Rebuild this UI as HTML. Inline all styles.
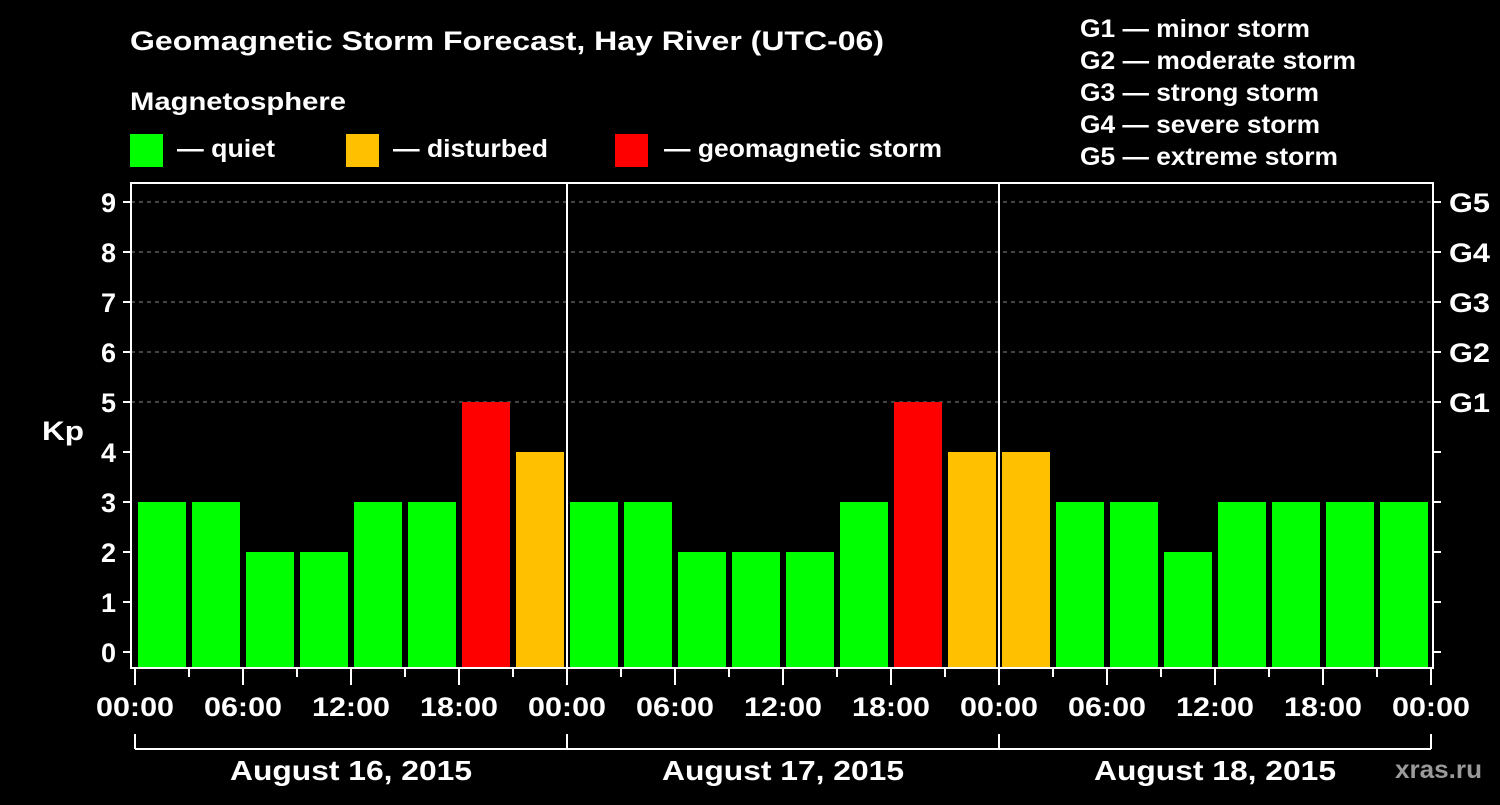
<!DOCTYPE html>
<html><head><meta charset="utf-8"><style>
html,body{margin:0;padding:0;background:#000;}
svg text{font-family:"Liberation Sans",sans-serif;font-weight:bold;fill:#fff;}
</style></head><body>
<svg id="c" width="1500" height="800" xmlns="http://www.w3.org/2000/svg">
<rect width="1500" height="800" fill="#000"/>
<text x="130" y="50" font-size="27" textLength="754" lengthAdjust="spacingAndGlyphs">Geomagnetic Storm Forecast, Hay River (UTC-06)</text>
<text x="130" y="110" font-size="25" textLength="216" lengthAdjust="spacingAndGlyphs">Magnetosphere</text>
<g><rect x="130" y="134" width="33" height="33" fill="#00ff00"/><text x="177" y="157" font-size="25" textLength="98" lengthAdjust="spacingAndGlyphs">— quiet</text></g>
<g><rect x="346" y="134" width="33" height="33" fill="#ffc000"/><text x="393" y="157" font-size="25" textLength="155" lengthAdjust="spacingAndGlyphs">— disturbed</text></g>
<g><rect x="615" y="134" width="33" height="33" fill="#ff0000"/><text x="664" y="157" font-size="25" textLength="278" lengthAdjust="spacingAndGlyphs">— geomagnetic storm</text></g>
<g font-size="25">
<text x="1080" y="37" textLength="230" lengthAdjust="spacingAndGlyphs">G1 — minor storm</text>
<text x="1080" y="69" textLength="276" lengthAdjust="spacingAndGlyphs">G2 — moderate storm</text>
<text x="1080" y="101" textLength="239" lengthAdjust="spacingAndGlyphs">G3 — strong storm</text>
<text x="1080" y="133" textLength="240" lengthAdjust="spacingAndGlyphs">G4 — severe storm</text>
<text x="1080" y="165" textLength="258" lengthAdjust="spacingAndGlyphs">G5 — extreme storm</text>
</g>
<text x="42" y="440" font-size="27" textLength="42" lengthAdjust="spacingAndGlyphs">Kp</text>
<g id="grid"></g><g id="bars"></g><g id="axes"></g>
<text x="1395" y="778" font-size="25" textLength="87" lengthAdjust="spacingAndGlyphs" style="fill:#9a9a9a">xras.ru</text>
</svg>
<script>
const days = ["August 16, 2015","August 17, 2015","August 18, 2015"];
const kpValues = [3,3,2,2,3,3,5,4, 3,3,2,2,2,3,5,4, 4,3,3,2,3,3,3,3];
const yTicks = [0,1,2,3,4,5,6,7,8,9];
const gLabels = ["G1","G2","G3","G4","G5"];
const hourLabels = ["00:00","06:00","12:00","18:00"];

const NS="http://www.w3.org/2000/svg";
const X0=135, DAYW=432, PL=131, PR=1433, PT=183, PB=668;
const xScale = h => X0 + h/24*DAYW;
const yScale = v => 652 - v*50;
function mk(tag,attrs,parent,txt){const e=document.createElementNS(NS,tag);for(const k in attrs)e.setAttribute(k,attrs[k]);if(txt!==undefined)e.textContent=txt;parent.appendChild(e);return e;}
const grid=document.getElementById('grid'),bars=document.getElementById('bars'),axes=document.getElementById('axes');

yTicks.forEach(v=>{ if(v>=5){ const l=mk('line',{x1:PL,x2:PR,y1:yScale(v),y2:yScale(v),stroke:'#888','stroke-dasharray':'4,4','stroke-width':1},grid);

}});

const color=v=> v>=5?'#ff0000':(v>=4?'#ffc000':'#00ff00');
kpValues.forEach((v,i)=>{
  const x=xScale(i*3)+3, w=48;
  const r=mk('rect',{x:x,y:yScale(v),width:w,height:PB-yScale(v),fill:color(v)},bars);
  
  
});

const f=mk('rect',{x:PL,y:PT,width:PR-PL,height:PB-PT,fill:'none',stroke:'#fff','stroke-width':2},axes);


for(let d=1;d<days.length;d++){const x=xScale(d*24);
  const l=mk('line',{x1:x,x2:x,y1:PT,y2:PB,stroke:'#fff','stroke-width':2},axes);
  
  }

yTicks.forEach((v,i)=>{const y=yScale(v);
  mk('line',{x1:123,x2:PL,y1:y,y2:y,stroke:'#fff','stroke-width':2},axes);
  mk('line',{x1:PR,x2:1441,y1:y,y2:y,stroke:'#fff','stroke-width':2},axes);
  const t=mk('text',{x:116,y:y+10,'font-size':27,'text-anchor':'end'},axes,String(v));
  
  
  if(v>=5){const g=mk('text',{x:1449,y:y+10,'font-size':27,textLength:41,lengthAdjust:'spacingAndGlyphs'},axes,gLabels[v-5]);
    
    }
});

const total=days.length*24;
for(let h=0;h<=total;h+=3){const x=xScale(h);const major=h%6===0;
  mk('line',{x1:x,x2:x,y1:PB,y2:PB+(major?17:9),stroke:'#fff','stroke-width':2},axes);
  if(major){const t=mk('text',{x:x,y:716,'font-size':27,'text-anchor':'middle',textLength:78,lengthAdjust:'spacingAndGlyphs'},axes,hourLabels[(h%24)/6]);
    
    }
}
mk('line',{x1:X0,x2:xScale(total),y1:749,y2:749,stroke:'#fff','stroke-width':2},axes);
for(let d=0;d<=days.length;d++){mk('line',{x1:xScale(d*24),x2:xScale(d*24),y1:734,y2:749,stroke:'#fff','stroke-width':2},axes);}
days.forEach((d,i)=>{const t=mk('text',{x:xScale(i*24+12),y:780,'font-size':28,'text-anchor':'middle',textLength:242,lengthAdjust:'spacingAndGlyphs'},axes,d);
  
  });
</script>
</body></html>
